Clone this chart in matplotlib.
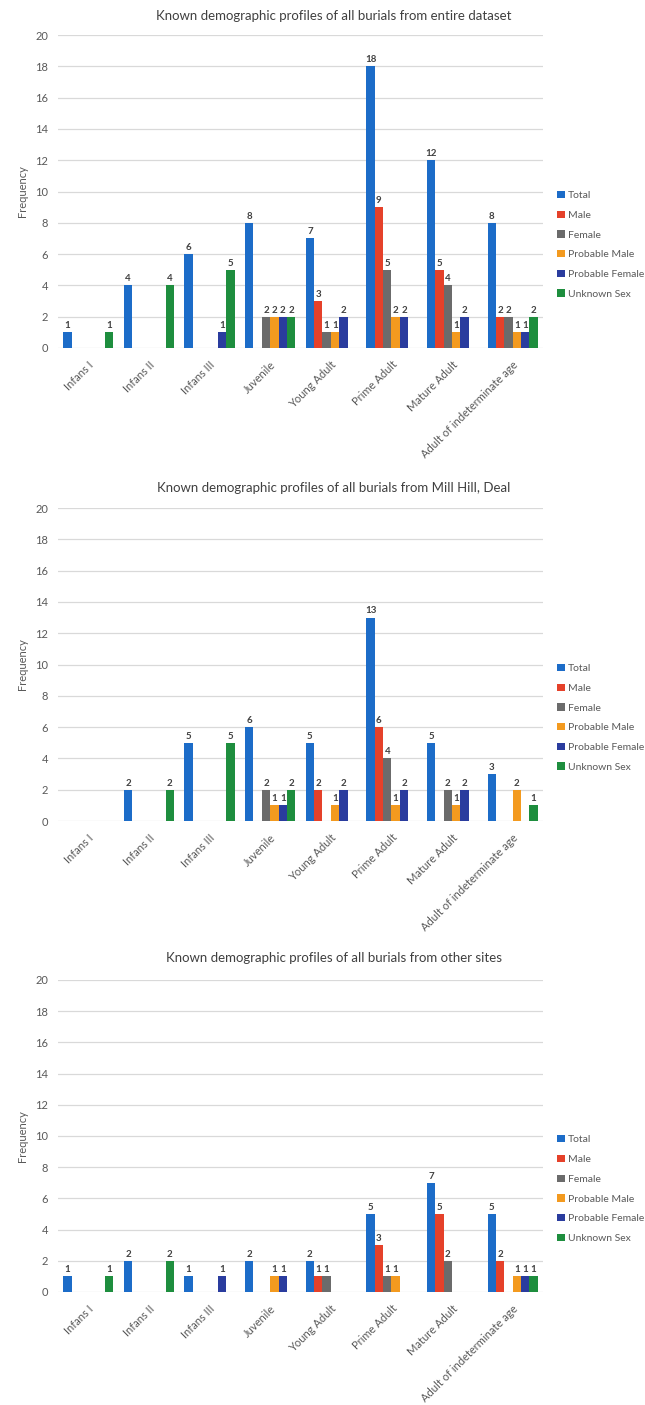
import matplotlib
matplotlib.use("Agg")
import matplotlib.pyplot as plt
import numpy as np

plt.rcParams['font.family'] = ['Lato', 'DejaVu Sans']

categories = ["Infans I", "Infans II", "Infans III", "Juvenile", "Young Adult",
              "Prime Adult", "Mature Adult", "Adult of indeterminate age"]
series_names = ["Total", "Male", "Female", "Probable Male", "Probable Female", "Unknown Sex"]
series_colors = ["#1C6CC8", "#E5412A", "#6B6B6B", "#F39A1F", "#2A3C9E", "#1E8E3E"]

# Entire dataset
entire_total = [1, 4, 6, 8, 7, 18, 12, 8]
entire_male = [0, 0, 0, 0, 3, 9, 5, 2]
entire_female = [0, 0, 0, 2, 1, 5, 4, 2]
entire_prob_male = [0, 0, 0, 2, 1, 2, 1, 1]
entire_prob_female = [0, 0, 1, 2, 2, 2, 2, 1]
entire_unknown = [1, 4, 5, 2, 0, 0, 0, 2]

# Mill Hill, Deal
mill_total = [0, 2, 5, 6, 5, 13, 5, 3]
mill_male = [0, 0, 0, 0, 2, 6, 0, 0]
mill_female = [0, 0, 0, 2, 0, 4, 2, 0]
mill_prob_male = [0, 0, 0, 1, 1, 1, 1, 2]
mill_prob_female = [0, 0, 0, 1, 2, 2, 2, 0]
mill_unknown = [0, 2, 5, 2, 0, 0, 0, 1]

# Other sites
other_total = [1, 2, 1, 2, 2, 5, 7, 5]
other_male = [0, 0, 0, 0, 1, 3, 5, 2]
other_female = [0, 0, 0, 0, 1, 1, 2, 0]
other_prob_male = [0, 0, 0, 1, 0, 1, 0, 1]
other_prob_female = [0, 0, 1, 1, 0, 0, 0, 1]
other_unknown = [1, 2, 0, 0, 0, 0, 0, 1]

titles = ["Known demographic profiles of all burials from entire dataset",
          "Known demographic profiles of all burials from Mill Hill, Deal",
          "Known demographic profiles of all burials from other sites"]

charts = [
    [entire_total, entire_male, entire_female, entire_prob_male, entire_prob_female, entire_unknown],
    [mill_total, mill_male, mill_female, mill_prob_male, mill_prob_female, mill_unknown],
    [other_total, other_male, other_female, other_prob_male, other_prob_female, other_unknown],
]

W, H = 645, 1405
fig = plt.figure(figsize=(W / 100, H / 100), dpi=100)
fig.patch.set_facecolor("white")

# (top_px, bottom_px) of the plot areas
areas = [(35, 348), (508, 821), (980, 1292)]
title_y = [16, 488, 958]
left_px, right_px = 58, 543

x = np.arange(len(categories))
width = 0.138

for ci, (data, title, (top, bot), ty) in enumerate(zip(charts, titles, areas, title_y)):
    ax = fig.add_axes([left_px / W, 1 - bot / H, (right_px - left_px) / W, (bot - top) / H])
    ax.set_ylim(0, 20)
    ax.set_xlim(-0.5, len(categories) - 0.5)
    ax.set_yticks(np.arange(0, 21, 2))
    ax.yaxis.grid(True, color="#D9D9D9", linewidth=0.9)
    ax.set_axisbelow(True)
    for s in ax.spines.values():
        s.set_visible(False)
    ax.tick_params(axis="both", length=0, colors="#595959", labelsize=8)
    ax.tick_params(axis="y", pad=7)
    ax.set_xticks(x)
    ax.set_xticklabels(categories, rotation=45, ha="right", rotation_mode="anchor",
                       fontsize=8, color="#595959")
    ax.tick_params(axis="x", pad=8)
    for si, (name, col, vals) in enumerate(zip(series_names, series_colors, data)):
        bars = ax.bar(x + (si - 2.5) * width, vals, width, color=col, label=name)
        labels = ["" if v == 0 else str(v) for v in vals]
        ax.bar_label(bars, labels=labels, padding=1.5, fontsize=7,
                     color="#404040", fontweight="bold")
    ax.set_ylabel("Frequency", fontsize=8, color="#595959", labelpad=5)
    ax.legend(loc="center left", bbox_to_anchor=(1.01, 0.33), frameon=False,
              fontsize=7.5, handlelength=0.7, handleheight=0.7, handletextpad=0.35,
              labelspacing=1.0, labelcolor="#595959")
    fig.text(334 / W, 1 - ty / H, title, ha="center", va="center",
             fontsize=9.5, color="#404040")

fig.savefig("out.png", dpi=100, facecolor="white")
